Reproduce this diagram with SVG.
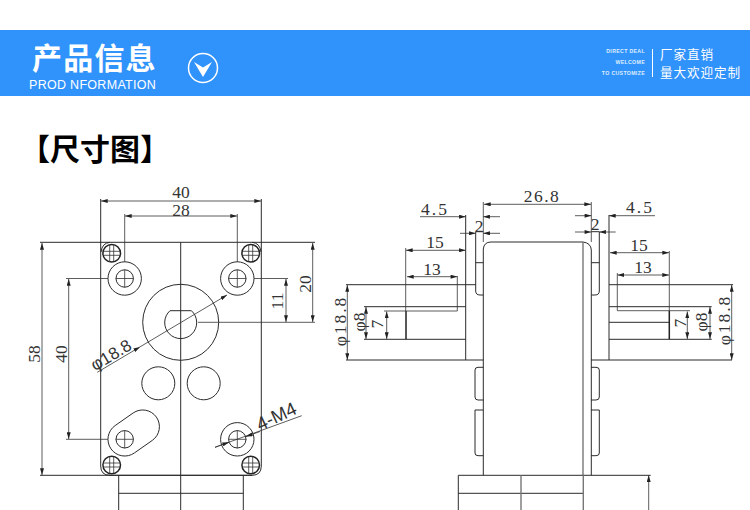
<svg xmlns="http://www.w3.org/2000/svg" width="750" height="510" viewBox="0 0 750 510">
<style>
.l{fill:none;stroke:#2b2b2b;stroke-width:1}
.t{fill:none;stroke:#333;stroke-width:.8}
.g{fill:none;stroke:#777;stroke-width:1.4}
.k{fill:none;stroke:#222;stroke-width:1.5}
.d{fill:none;stroke:#333;stroke-width:.8;marker-start:url(#a);marker-end:url(#a)}
.e{fill:none;stroke:#333;stroke-width:.8;marker-end:url(#a)}
.n{font-family:"Liberation Serif",serif;font-size:17.5px;fill:#333;text-anchor:middle}
.s{font-family:"Liberation Sans",sans-serif;font-size:18.5px;fill:#333;text-anchor:middle}
.w{font-family:"Noto Sans CJK SC",sans-serif;fill:#fff}
.m{font-family:"Liberation Sans",sans-serif;font-weight:700;font-size:5.2px;letter-spacing:.35px;fill:#dfeeff;text-anchor:end}
</style>
<defs>
<marker id="a" viewBox="0 0 10 6" refX="10" refY="3" markerUnits="userSpaceOnUse" markerWidth="7" markerHeight="4" orient="auto-start-reverse"><path d="M0 0L10 3L0 6Z" fill="#222"/></marker>
<g id="screw"><circle r="8.8" class="k"/><path class="t" d="M-2-8.5V8.5M2-8.5V8.5M-8.5-2H8.5M-8.5 2H8.5"/></g>
<g id="hole"><circle r="8.7" class="l"/><path class="t" d="M-9 0H9M0-9V9"/></g>
</defs>
<rect width="750" height="510" fill="#fff"/>
<g id="header">
<rect y="30" width="750" height="66" fill="#3092fb"/>
<text class="w" x="32" y="69" font-size="30" font-weight="700" letter-spacing="1.2">产品信息</text>
<text x="29" y="89" font-family="'Liberation Sans',sans-serif" font-size="12.5" letter-spacing=".3" fill="#fff">PROD NFORMATION</text>
<circle cx="203" cy="68" r="14.5" fill="none" stroke="#fff" stroke-width="1.5"/>
<path d="M194 62L203 67.5L212 62L203 77Z" fill="#fff"/>
<text class="m" x="645" y="53">DIRECT DEAL</text>
<text class="m" x="645" y="64">WELCOME</text>
<text class="m" x="645" y="75">TO CUSTOMIZE</text>
<path d="M652.5 49V77" stroke="#fff" stroke-width="1"/>
<text class="w" x="660" y="58.5" font-size="12.6" letter-spacing=".9">厂家直销</text>
<text class="w" x="660" y="77" font-size="12.6" letter-spacing=".9">量大欢迎定制</text>
</g>
<text id="title" x="20" y="160" font-family="'Noto Sans CJK SC',sans-serif" font-size="30" font-weight="700" fill="#000">【尺寸图】</text>
<g id="front-view">
<path class="l" d="M100.7 199V466Q100.7 475.3 110 475.3H252Q261.3 475.3 261.3 466V199"/>
<path class="l" d="M40 242.3H315M40 475.3H252M180.7 242.3V510M118.7 475.3V510M243.3 475.3V510M118.7 493.3H243.3"/>
<path class="l" d="M101 252Q102 243 110 242.3M261 252Q260 243 252 242.3"/>
<circle cx="124.7" cy="278.5" r="16.7" class="l"/><circle cx="237.3" cy="278.5" r="16.7" class="l"/><circle cx="237.3" cy="439.3" r="16.7" class="l"/>
<use href="#hole" x="124.7" y="278.5"/><use href="#hole" x="237.3" y="278.5"/><use href="#hole" x="124.7" y="439.3"/><use href="#hole" x="237.3" y="439.3"/>
<use href="#screw" x="111.7" y="253.3"/><use href="#screw" x="250.7" y="253.3"/><use href="#screw" x="111.7" y="465"/><use href="#screw" x="250.7" y="465"/>
<circle cx="180.7" cy="322.3" r="38" class="l"/>
<path class="l" d="M170 310.7H191.4A16 16 0 1 1 170 310.7Z"/>
<circle cx="158.3" cy="383.3" r="16.5" class="l"/><circle cx="203.7" cy="383.3" r="16.5" class="l"/>
<path class="l" d="M134.3 453L152.3 440.4A16.7 16.7 0 0 0 133.1 413L115.1 425.6A16.7 16.7 0 0 0 134.3 453Z"/>
</g>
<g id="front-dims">
<path class="d" d="M101 201H261"/><path class="d" d="M125 216H237"/>
<path class="t" d="M124.7 214V262M237.3 214V262"/>
<path class="d" d="M42 243V475"/>
<path class="d" d="M68.7 279V439"/>
<path class="t" d="M66 278.5H108M66 439.3H108M254 278.5H288M198 322.3H315"/>
<path class="d" d="M286 279V322"/><path class="d" d="M312.7 243V322"/>
<path class="e" d="M180 323L227 295"/><path class="e" d="M97.3 372.3L140 346.9"/><path class="t" d="M140 346.9L180 323"/>
<path class="t" d="M215 447.3L301.7 415.7"/>
<path class="e" d="M215 447.3L229 442.2"/><path class="e" d="M260 431.5L246 436.6"/>
<text class="n" x="181" y="198">40</text><text class="n" x="181" y="215.5">28</text>
<text class="n" transform="translate(40 354) rotate(-90)">58</text>
<text class="n" transform="translate(67 354) rotate(-90)">40</text>
<text class="n" transform="translate(283 301) rotate(-90)">11</text>
<text class="n" transform="translate(311 284) rotate(-90)">20</text>
<text class="s" style="font-size:17px" transform="translate(114 360) rotate(-31)">φ18.8</text>
<text class="s" transform="translate(279 422) rotate(-25)">4-M4</text>
</g>
<g id="side-view">
<path class="l" d="M483.3 475.3V249Q484 242 491 242H583Q591 243 591.3 250V475.3"/>
<path class="g" d="M583 242V475.3"/>
<path class="l" d="M475.7 231.7V291Q475.7 295 480 295H483.3M475.7 262.7H483.3M591.3 262.7H599.3M599.3 231.7V291Q599.3 295 595 295H591.3M475.7 231.7H483.3M591.3 231.7H599.3"/>
<path class="l" d="M483.3 367.3H478Q475 367.3 475 370V397Q475 400 478 400H483.3M483.3 410H475V453Q475 455.7 478 455.7H483.3M591 367.3H596Q599.3 367.3 599.3 370V397Q599.3 400 596 400H591M591 410H599.3V453Q599.3 455.7 596 455.7H591"/>
<path class="l" d="M465.7 215V360M609 215V360M346 360H483.3M591 360H732"/>
<path class="l" d="M458.3 510V475.3H650.7M458.3 493.3H583"/>
<path class="g" d="M521 475.3V510M583.3 475.3V510"/>
<path class="l" d="M364 306.7H465.7M406 339.3H465.7M364 339.3H406M609 306.7H711.7M609 339.3H711.7M609 322.3H669M346 284.7H475.7M609 284.7H733"/>
<path class="k" d="M406 311V339.3M669.3 311V339.3" stroke-width="2"/>
</g>
<g id="side-dims">
<path class="t" d="M483.3 202V242M591.3 202V242"/>
<path class="d" d="M484 204.3H591"/>
<path class="e" d="M420 216.7H465.7"/><path class="e" d="M500 216.7H483.3"/>
<path class="e" d="M460 233.3H475.7"/><path class="e" d="M500 233.3H483.3"/>
<path class="d" d="M406 250.3H465.7"/><path class="d" d="M407 276.7H457.3"/>
<path class="t" d="M405.7 248V311M457.3 276V311M384 311H457.3"/>
<path class="d" d="M347.3 285V360"/><path class="d" d="M366 307V339"/><path class="d" d="M386.7 311.5V339"/>
<path class="e" d="M575 215.7H591.3"/><path class="e" d="M655 215.7H609"/>
<path class="e" d="M575 232H591.3"/><path class="e" d="M615.7 232H599.3"/>
<path class="d" d="M610 252.7H669"/><path class="d" d="M617.5 275H669"/>
<path class="t" d="M669.3 251V311M617.3 273V310.7H690"/>
<path class="d" d="M687.3 311.5V339"/><path class="d" d="M710 307V339"/><path class="d" d="M731.7 285V360"/>
<text class="n" x="542" y="202" letter-spacing="1.5">26.8</text>
<text class="n" x="435" y="215" letter-spacing="2">4.5</text>
<text class="n" x="640" y="213" letter-spacing="2">4.5</text>
<text class="n" x="479" y="232">2</text><text class="n" x="595" y="230">2</text>
<text class="n" x="435" y="248">15</text><text class="n" x="639" y="251">15</text>
<text class="n" x="432" y="275">13</text><text class="n" x="643" y="273">13</text>
<text class="n" transform="translate(346 321) rotate(-90)" letter-spacing="2">φ18.8</text>
<text class="n" transform="translate(365 322) rotate(-90)">φ8</text>
<text class="n" transform="translate(383 324) rotate(-90)">7</text>
<text class="n" transform="translate(686 323) rotate(-90)">7</text>
<text class="n" transform="translate(707 322) rotate(-90)">φ8</text>
<text class="n" transform="translate(730 320) rotate(-90)" letter-spacing="2">φ18.8</text>
<path class="e" d="M648.7 510V475.3"/>
</g>
</svg>
